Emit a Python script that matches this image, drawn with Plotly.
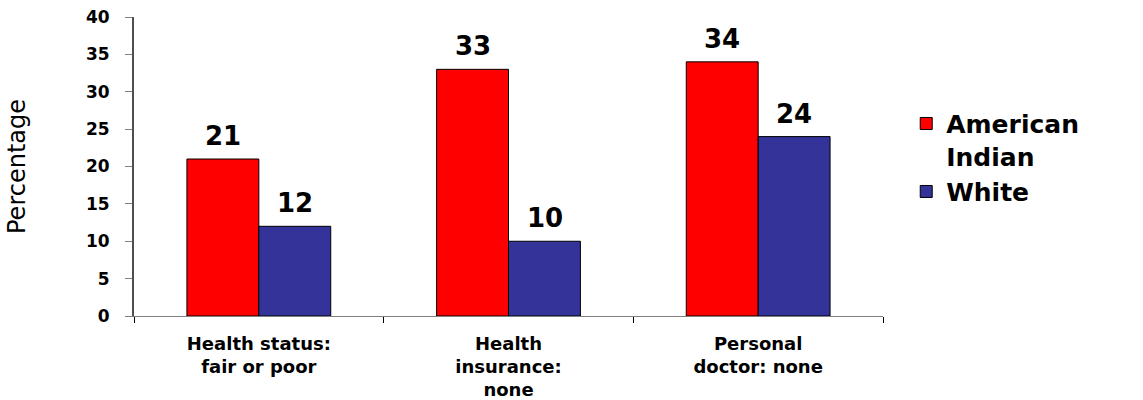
import plotly.graph_objects as go

# Survey indicators by group (percent)
categories = [
    "Health status:<br>fair or poor",
    "Health<br>insurance:<br>none",
    "Personal<br>doctor: none",
]
american_indian = [21, 33, 34]
white = [12, 10, 24]
series_names = ["American<br>Indian", "White"]
y_ticks = [0, 5, 10, 15, 20, 25, 30, 35, 40]

BOLD = "DejaVu Sans"
label_font = dict(family=BOLD, size=26, color="#000000", weight="bold")

fig = go.Figure()
fig.add_trace(go.Bar(
    name=series_names[0], x=categories, y=american_indian,
    marker=dict(color="#FF0000", line=dict(color="#000000", width=1)),
))
fig.add_trace(go.Bar(
    name=series_names[1], x=categories, y=white,
    marker=dict(color="#333399", line=dict(color="#000000", width=1)),
))

# Value labels above each bar (left bar of the pair shifted left, right bar right)
for values, shift in ((american_indian, -36), (white, 36)):
    for cat, v in zip(categories, values):
        fig.add_annotation(
            x=cat, y=v, xref="x", yref="y", text=str(v), showarrow=False,
            xanchor="center", yanchor="bottom", xshift=shift, yshift=6,
            font=label_font,
        )

fig.update_layout(
    width=1143, height=400,
    margin=dict(l=134, r=260, t=17, b=84),
    plot_bgcolor="white", paper_bgcolor="white",
    barmode="group", bargap=0.424, bargroupgap=0,
    showlegend=True,
    legend=dict(
        x=1.031, xanchor="left", y=0.72, yanchor="top",
        font=dict(family=BOLD, size=25, color="#000000", weight="bold"),
        valign="top", tracegroupgap=0, itemwidth=30,
        bgcolor="rgba(0,0,0,0)",
    ),
    xaxis=dict(
        automargin=False,
        showline=True, linecolor="#808080", linewidth=1,
        ticks="outside", tickson="boundaries", ticklen=6, tickcolor="#000000",
        ticklabelstandoff=11,
        tickfont=dict(family=BOLD, size=18, color="#000000", weight="bold"),
        showgrid=False,
    ),
    yaxis=dict(
        automargin=False,
        range=[0, 40], tickvals=y_ticks,
        showline=True, linecolor="#505050", linewidth=2,
        ticks="outside", ticklen=7, tickcolor="#808080",
        ticklabelstandoff=12,
        tickfont=dict(family=BOLD, size=17, color="#000000", weight="bold"),
        showgrid=False, zeroline=False,
        title=dict(text="Percentage", standoff=54,
                   font=dict(family="DejaVu Sans", size=24, color="#000000")),
    ),
)

fig.write_html("out.html")
